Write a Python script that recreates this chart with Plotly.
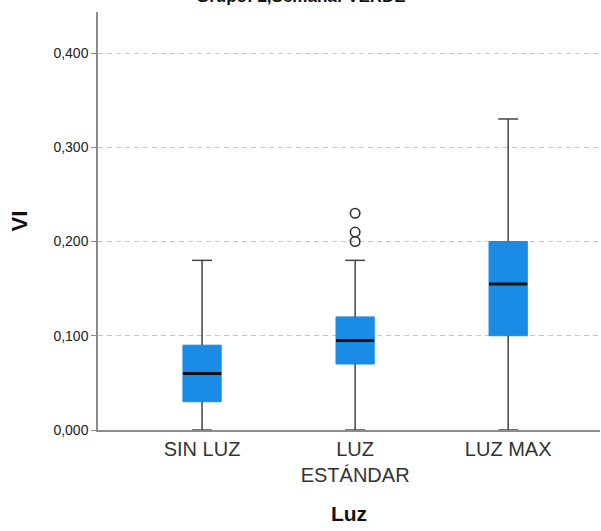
import plotly.graph_objects as go

# Box-plot summaries of VI by light condition
categories = ["SIN LUZ", "LUZ<br>ESTÁNDAR", "LUZ MAX"]
lower_fence = [0.0, 0.0, 0.0]
q1 = [0.03, 0.07, 0.10]
median = [0.06, 0.095, 0.155]
q3 = [0.09, 0.12, 0.20]
upper_fence = [0.18, 0.18, 0.33]
outliers = [[], [0.23, 0.21, 0.20], []]

y_ticks = [0.0, 0.1, 0.2, 0.3, 0.4]
panel_title = "Grupo: 2,Semana: VERDE"

BOX_BLUE = "#1a8ce6"
WHISKER = "#444444"
half_box = 0.125
half_cap = 0.065

xs = list(range(len(categories)))
fig = go.Figure()

# Boxes (Q1..Q3), outline in the fill colour
fig.add_trace(go.Box(
    x=xs, q1=q1, median=median, q3=q3,
    lowerfence=q1, upperfence=q3,
    width=2 * half_box, fillcolor=BOX_BLUE,
    line=dict(color=BOX_BLUE, width=1),
    whiskerwidth=0, boxpoints=False, showlegend=False, hoverinfo="skip",
))

# Whiskers and caps
wx, wy = [], []
for i in xs:
    wx += [i, i, None, i, i, None]
    wy += [lower_fence[i], q1[i], None, q3[i], upper_fence[i], None]
    for f in (lower_fence[i], upper_fence[i]):
        wx += [i - half_cap, i + half_cap, None]
        wy += [f, f, None]
fig.add_trace(go.Scatter(x=wx, y=wy, mode="lines",
                         line=dict(color=WHISKER, width=1.5),
                         showlegend=False, hoverinfo="skip"))

# Median bars
mx, my = [], []
for i in xs:
    mx += [i - half_box, i + half_box, None]
    my += [median[i], median[i], None]
fig.add_trace(go.Scatter(x=mx, y=my, mode="lines",
                         line=dict(color="#111111", width=3),
                         showlegend=False, hoverinfo="skip"))

# Outliers
ox, oy = [], []
for i in xs:
    for v in outliers[i]:
        ox.append(i)
        oy.append(v)
fig.add_trace(go.Scatter(x=ox, y=oy, mode="markers",
                         marker=dict(symbol="circle-open", size=9.5,
                                     color="#333333", line=dict(width=1.6)),
                         showlegend=False, hoverinfo="skip"))

# Panel heading sitting against the top edge of the page
fig.add_annotation(
    text=f"<b>{panel_title}</b>", xref="paper", yref="paper",
    x=0.405, y=1.0, xanchor="center", yanchor="bottom",
    yshift=5, showarrow=False, borderpad=0,
    font=dict(size=17, color="#111111"),
)

fig.update_layout(
    width=601, height=531,
    margin=dict(l=98, r=1, t=12, b=101),
    paper_bgcolor="white", plot_bgcolor="white",
    separators=",.",
    font=dict(family="Liberation Sans, Arial, sans-serif", color="#222222"),
    xaxis=dict(
        range=[-0.68, 2.6], tickvals=xs, ticktext=categories,
        showgrid=False, zeroline=False,
        showline=True, linecolor="#8c8c8c", linewidth=1.5,
        ticks="", tickfont=dict(size=20, color="#333333"),
        title=dict(text="<b>Luz</b>", font=dict(size=21, color="#111111"),
                   standoff=22),
    ),
    yaxis=dict(
        range=[0, 0.4435], tickvals=y_ticks, tickformat=".3f",
        showgrid=True, gridcolor="#c8c8c8", gridwidth=1, griddash="5px,4px",
        zeroline=False,
        showline=True, linecolor="#8c8c8c", linewidth=1.5,
        ticks="outside", ticklen=5, tickcolor="#8c8c8c",
        tickfont=dict(size=14, color="#222222"),
        title=dict(text="<b>VI</b>", font=dict(size=22, color="#111111"),
                   standoff=20),
    ),
)

fig.write_html("out.html")
